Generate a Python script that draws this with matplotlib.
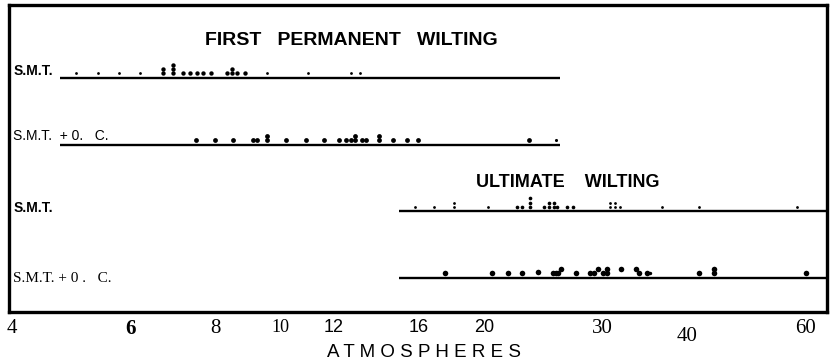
import matplotlib.pyplot as plt
import matplotlib.transforms as mtransforms

plt.rcParams['font.family'] = ['Liberation Sans', 'DejaVu Sans']

fpw_smt = [6.70, 6.70, 6.92, 6.92, 6.92, 7.17, 7.34, 7.52, 7.68, 7.89,
           8.33, 8.47, 8.47, 8.62, 8.85]
fpw_smt_lev = [0, 1, 0, 1, 2, 0, 0, 0, 0, 0, 0, 0, 1, 0, 0]
fpw_smt_specks = [4.98, 5.36, 5.76, 6.20, 9.55, 11.0, 12.7, 13.1]

fpw_oc = [7.50, 8.00, 8.51, 9.09, 9.24, 9.56, 9.56, 10.2, 10.9, 11.6,
          12.2, 12.5, 12.7, 12.9, 12.9, 13.2, 13.4, 14.0, 14.0, 14.7,
          15.4, 16.0, 23.3]
fpw_oc_lev = [0, 0, 0, 0, 0, 0, 1, 0, 0, 0,
              0, 0, 0, 0, 1, 0, 0, 0, 1, 0,
              0, 0, 0]
fpw_oc_specks = [25.6]

uw_smt = [22.4, 22.8, 23.4, 23.4, 23.4, 24.6, 25.0, 25.0, 25.4, 25.4,
          25.7, 26.6, 27.1]
uw_smt_lev = [0, 0, 0, 1, 2, 0, 0, 1, 0, 1, 0, 0, 0]
uw_smt_specks = [15.8, 16.9, 18.1, 18.1, 20.3, 30.8, 30.8, 31.3, 31.3,
                 31.8, 36.7, 41.7, 58.2]
uw_smt_specks_lev = [0, 0, 0, 1, 0, 0, 1, 0, 1, 0, 0, 0, 0]

uw_oc = [17.5, 20.6, 21.7, 22.8, 24.1, 25.3, 25.6, 25.8, 26.0, 27.4,
         28.7, 29.1, 29.5, 30.0, 30.5, 30.5, 31.9, 33.6, 34.0, 34.9,
         41.7, 43.9, 43.9, 60.0]
uw_oc_lev = [0, 0, 0, 0, 0.4, 0, 0, 0, 1, 0,
             0, 0, 1, 0, 0, 1, 1, 1, 0, 0,
             0, 0, 1, 0]
uw_oc_specks = [35.3]

first_range = [4.71, 25.9]
ultimate_start = 15.0

ticks = [4, 6, 8, 10, 12, 16, 20, 30, 40, 60]

fig = plt.figure(figsize=(8.3, 3.6), dpi=100)
ax = fig.add_axes([9 / 830, 48 / 360, 818 / 830, 307 / 360])
ax.set_xscale('log')
ax.set_xlim(3.96, 64.5)
ax.set_ylim(3.51, -1.095)

base, step = 0.07, 0.062


def draw_row(row, vals, lev, size):
    ys = [row - base - step * l for l in lev]
    ax.scatter(vals, ys, s=size, color='black', linewidths=0, zorder=3)


draw_row(0, fpw_smt, fpw_smt_lev, 10)
draw_row(0, fpw_smt_specks, [0] * len(fpw_smt_specks), 4)
draw_row(1, fpw_oc, fpw_oc_lev, 12)
draw_row(1, fpw_oc_specks, [0], 5)
draw_row(2, uw_smt, uw_smt_lev, 7)
draw_row(2, uw_smt_specks, uw_smt_specks_lev, 4)
draw_row(3, uw_oc, uw_oc_lev, 16)
draw_row(3, uw_oc_specks, [0], 6)

ax.hlines([0, 1], first_range[0], first_range[1], color='black', lw=1.7)
ax.hlines([2, 3], ultimate_start, 64.5, color='black', lw=1.7)

tr = mtransforms.blended_transform_factory(ax.transAxes, ax.transData)
ax.text(0.005, -0.045, 'S.M.T.', transform=tr, fontsize=10, fontweight='bold', va='baseline')
ax.text(0.005, 0.93, 'S.M.T.  + 0.   C.', transform=tr, fontsize=10,
        family=['Liberation Sans Narrow', 'Liberation Sans'], va='baseline')
ax.text(0.005, 2.01, 'S.M.T.', transform=tr, fontsize=10, fontweight='bold', va='baseline')
ax.text(0.005, 3.06, 'S.M.T. + 0 .   C.', transform=tr, fontsize=11,
        family='Liberation Serif', va='baseline')

ax.text(0.419, -0.495, 'FIRST   PERMANENT   WILTING', transform=tr, fontsize=14,
        fontweight='bold', ha='center', va='baseline')
ax.text(0.683, 1.634, 'ULTIMATE    WILTING', transform=tr, fontsize=13,
        fontweight='bold', ha='center', va='baseline')

ax.set_yticks([])
ax.set_xticks(ticks)
ax.set_xticks([], minor=True)
ax.set_xticklabels([str(t) for t in ticks])
ax.tick_params(axis='x', length=0, pad=5)
for lab in ax.get_xticklabels():
    t = lab.get_text()
    lab.set_family('Liberation Serif')
    lab.set_fontsize(15)
    if t == '6':
        lab.set_fontweight('bold')
    elif t in ('12', '16', '20'):
        lab.set_family('Liberation Sans')
        lab.set_fontsize(13)
    elif t == '10':
        lab.set_fontsize(13)
    elif t == '40':
        lab.set_y(-0.025)

for sp in ax.spines.values():
    sp.set_linewidth(2.4)

fig.text(424 / 830, 3 / 360, 'A T M O S P H E R E S', fontsize=13.5, ha='center', va='baseline')

fig.savefig('out.png', dpi=100)
